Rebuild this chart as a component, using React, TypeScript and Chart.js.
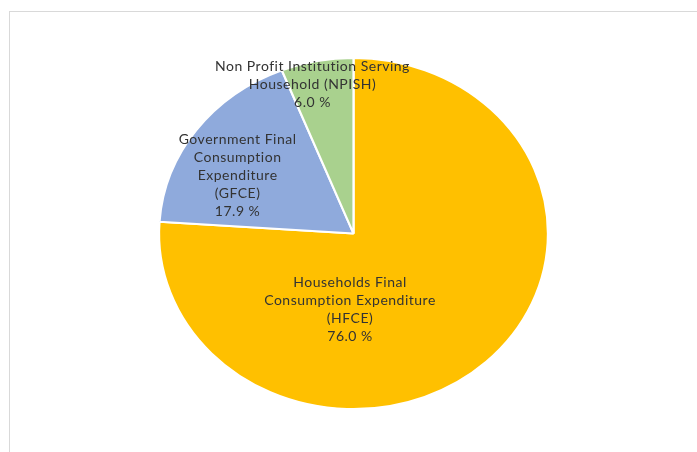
import React, { useEffect, useRef } from "react";
import { Chart, registerables } from "chart.js";

Chart.register(...registerables);

const categories = [
  "Households Final Consumption Expenditure (HFCE)",
  "Government Final Consumption Expenditure (GFCE)",
  "Non Profit Institution Serving Household (NPISH)",
];
const shares = [76.0, 17.9, 6.0];
const labelLines = [
  ["Households Final", "Consumption Expenditure", "(HFCE)", "76.0 %"],
  ["Government Final", "Consumption", "Expenditure", "(GFCE)", "17.9 %"],
  ["Non Profit Institution Serving", "Household (NPISH)", "6.0 %"],
];
const colors = ["#FFC000", "#8FAADC", "#A9D18E"];

// style / layout
const STRETCH_X = 1.108; // the pie is drawn as a horizontally stretched ellipse
const labelAnchors = [
  [-0.018, 0.432],
  [-0.596, -0.332],
  [-0.211, -0.847],
];

const stretchPlugin = {
  id: "stretch",
  beforeDatasetsDraw(chart: any) {
    const arc0 = chart.getDatasetMeta(0).data[0];
    const ctx = chart.ctx;
    ctx.save();
    if (!arc0) return;
    ctx.translate(arc0.x, arc0.y);
    ctx.scale(STRETCH_X, 1);
    ctx.translate(-arc0.x, -arc0.y);
  },
  afterDatasetsDraw(chart: any) {
    const ctx = chart.ctx;
    ctx.restore();
    const arc0 = chart.getDatasetMeta(0).data[0];
    if (!arc0) return;
    const { x, y, outerRadius } = arc0.getProps(["x", "y", "outerRadius"], true);
    const rx = outerRadius * STRETCH_X;
    const ry = outerRadius;
    ctx.save();
    ctx.font = "14px Lato";
    (ctx as any).letterSpacing = "0.5px";
    ctx.fillStyle = "#333333";
    ctx.textAlign = "center";
    ctx.textBaseline = "middle";
    const lh = 18;
    labelLines.forEach((lines, i) => {
      const cx = x + labelAnchors[i][0] * rx;
      const cy = y + labelAnchors[i][1] * ry;
      const top = cy - ((lines.length - 1) * lh) / 2;
      lines.forEach((t, j) => ctx.fillText(t, cx, top + j * lh));
    });
    ctx.restore();
  },
};

export default function App() {
  const ref = useRef<HTMLCanvasElement>(null);
  useEffect(() => {
    document.body.style.margin = "0";
    const chart = new Chart(ref.current!, {
      type: "pie",
      data: {
        labels: categories,
        datasets: [
          {
            data: shares,
            backgroundColor: colors,
            borderColor: "#ffffff",
            borderWidth: 2,
          },
        ],
      },
      options: {
        animation: false,
        responsive: false,
        layout: { padding: { left: 100, right: 90, top: 57, bottom: 42 } },
        plugins: {
          legend: { display: false },
          tooltip: { enabled: false },
        },
      },
      plugins: [stretchPlugin],
    });
    return () => chart.destroy();
  }, []);
  return (
    <div style={{ position: "relative", width: 697, height: 452, background: "#fff", overflow: "hidden" }}>
      <div
        style={{
          position: "absolute",
          left: 9,
          top: 11,
          width: 700,
          height: 460,
          borderLeft: "1px solid #d9d9d9",
          borderTop: "1px solid #d9d9d9",
        }}
      />
      <canvas ref={ref} width={697} height={452} style={{ position: "absolute", left: 0, top: 0 }} />
    </div>
  );
}
